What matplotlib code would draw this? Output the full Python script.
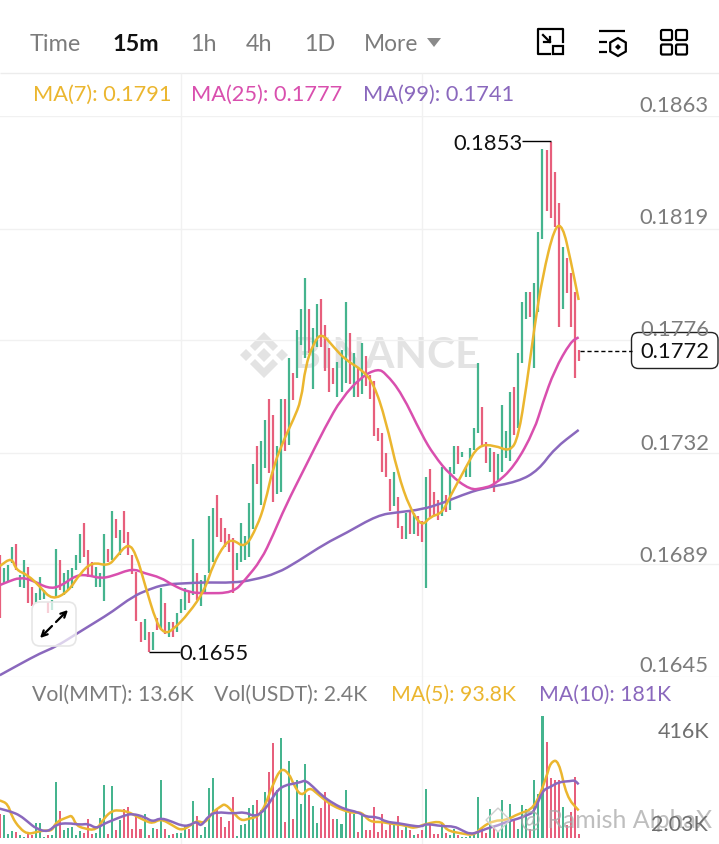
import matplotlib
matplotlib.use('Agg')
import matplotlib.pyplot as plt
from matplotlib.patches import FancyBboxPatch, Rectangle, RegularPolygon, Polygon, PathPatch
from matplotlib.path import Path

# one entry per 15m candle
highs = [
    .16924, .16872, .16885, .16956, .16967, .16846, .16904, .16879, .16801, .16775,
    .16837, .16788, .16742, .16749, .16946, .16904, .16853, .16866, .16872, .16924,
    .17005, .17047, .16943, .16898, .16879, .16853, .17005, .16946, .17096, .17064,
    .17021, .17096, .17015, .16924, .16859, .16665, .16674, .16626, .16626, .16678,
    .16794, .16736, .16665, .16665, .16697, .16755, .16794, .16781, .16986, .16856,
    .16827, .16846, .17075, .17105, .17157, .17066, .17028, .17005, .16989, .16930,
    .17047, .16998, .17127, .17278, .17347, .17367, .17449, .17529, .17468, .17347,
    .17529, .17529, .17688, .17630, .17798, .17879, .17999, .17879, .17807, .17898,
    .17919, .17818, .17730, .17649, .17675, .17721, .17908, .17788, .17708, .17656,
    .17749, .17697, .17623, .17601, .17416, .17397, .17319, .17218, .17245, .17148,
    .17038, .17086, .17099, .17086, .17075, .17056, .17226, .17257, .17167, .17138,
    .17265, .17157, .17267, .17347, .17347, .17325, .17267, .17338, .17416, .17669,
    .17498, .17364, .17338, .17325, .17316, .17507, .17407, .17556, .17578, .17708,
    .17909, .17947, .17947, .17980, .18178, .18500, .18498, .18530, .18411, .18291,
    .18120, .18079, .18019, .17947, .17721,
]
lows = [
    .16678, .16814, .16820, .16892, .16866, .16801, .16794, .16736, .16727, .16736,
    .16749, .16755, .16697, .16710, .16762, .16788, .16768, .16788, .16794, .16866,
    .16892, .16917, .16840, .16840, .16801, .16798, .16746, .16898, .16904, .16989,
    .16924, .16969, .16924, .16849, .16669, .16587, .16594, .16546, .16555, .16632,
    .16632, .16619, .16607, .16607, .16626, .16697, .16710, .16736, .16768, .16749,
    .16727, .16775, .16853, .16898, .16995, .16976, .16956, .16937, .16775, .16866,
    .16898, .16904, .16917, .17027, .17200, .17118, .17261, .17241, .17129, .17160,
    .17170, .17329, .17351, .17526, .17610, .17740, .17691, .17708, .17568, .17731,
    .17731, .17640, .17559, .17588, .17539, .17559, .17591, .17588, .17539, .17539,
    .17548, .17581, .17529, .17388, .17368, .17248, .17228, .17096, .17116, .17030,
    .16987, .16987, .17005, .17005, .16998, .16976, .16797, .17073, .17079, .17060,
    .17075, .17090, .17099, .17239, .17277, .17306, .17228, .17228, .17332, .17397,
    .17351, .17280, .17248, .17170, .17215, .17248, .17300, .17291, .17390, .17416,
    .17669, .17840, .17850, .17649, .17870, .18151, .18262, .18232, .18200, .17811,
    .17879, .17941, .17809, .17610, .17679,
]
sides = ("rgggrggrrggg" "rgg" "r" "ggggg" "rrr" "ggg" "r" "g" "r" "g" "rrrrr" "g" "r" "g" "r"
         "g" "r" "g" "r" "ggg" "r" "g" "r" "gggg" "rrrrr" "ggggg" "r" "gg" "rr" "gg" "r" "g" "r"
         "ggg" "r" "gg" "rrrr" "ggg" "r" "g" "r" "g" "rrrrrrr" "g" "rr" "g" "r" "g" "rr" "g" "rrr"
         "g" "r" "gg" "r" "ggggg" "rr" "g" "r" "gggg" "r" "ggg" "r" "ggg" "rrrr" "g" "rrrr")
volumes = [
    83, 77, 13, 24, 20, 9, 2, 20, 9, 51,
    51, 2, 11, 9, 191, 92, 28, 34, 38, 9,
    24, 17, 66, 15, 18, 69, 182, 15, 179, 26,
    60, 100, 106, 32, 72, 30, 83, 9, 34, 31,
    197, 30, 9, 13, 18, 18, 41, 32, 126, 74,
    11, 38, 171, 205, 94, 72, 38, 58, 140, 6,
    43, 49, 102, 111, 131, 94, 157, 225, 325, 163,
    342, 55, 263, 66, 197, 115, 251, 146, 108, 51,
    102, 157, 115, 66, 64, 47, 163, 89, 83, 20,
    83, 26, 26, 106, 20, 81, 26, 55, 49, 74,
    26, 43, 26, 9, 15, 28, 168, 49, 15, 13,
    47, 17, 9, 32, 9, 3, 2, 6, 13, 140,
    38, 17, 100, 38, 20, 131, 49, 115, 60, 32,
    111, 100, 32, 199, 149, 415, 327, 205, 199, 199,
    106, 43, 89, 208, 13,
]

ma7_idx = [0, 3, 4, 7, 10, 13, 17, 20, 23, 27, 29, 32, 34, 36, 39, 41, 43, 47, 51, 53, 56, 58, 61, 64,
           66, 68, 71, 73, 75, 76, 78, 80, 83, 86, 90, 93, 96, 99, 102, 105, 107, 110,
           112, 116, 119, 123, 127, 129, 131, 133, 135, 138, 140, 142, 144]
ma7 = [.16881, .16915, .16866, .16846, .16801, .16749, .16781, .16853, .16897, .16881, .16917, .16972,
       .16924, .16814, .16658, .16619, .16632, .16697, .16788, .16885, .16969, .16985, .16950, .17034,
       .17125, .17267, .17384, .17449, .17526, .17656, .17746, .17788, .17733, .17682, .17645, .17591,
       .17449, .17241, .17105, .17034, .17073, .17086,
       .17151, .17267, .17351, .17351, .17325, .17384, .17578, .17811, .18006, .18200, .18206, .18070, .17915]

ma25_idx = [0, 2, 5, 8, 12, 15, 19, 22, 25, 28, 33, 36, 40, 43, 47, 51, 58,
            61, 65, 68, 71, 76, 81, 85, 90, 94, 96, 100, 105, 108, 112, 117, 120, 123, 128, 133, 135, 138, 142, 144]
ma25 = [.16807, .16820, .16837, .16827, .16794, .16801, .16846, .16846, .16833, .16842, .16872, .16853,
        .16837, .16807, .16779, .16775, .16777,
        .16827, .16904, .17002, .17112, .17267, .17423, .17533, .17617, .17648, .17630, .17552, .17390,
        .17312, .17235, .17177, .17183, .17196, .17267, .17410, .17513, .17643, .17753, .17770]

ma99_idx = [0, 5, 10, 14, 19, 24, 28, 33, 37, 41, 46, 51, 58, 63, 69, 74, 81, 86, 94, 99, 105, 110,
            115, 120, 129, 134, 138, 144]
ma99 = [.16457, .16500, .16542, .16568, .16617, .16665, .16704, .16762, .16790, .16810, .16814, .16818,
        .16816, .16827, .16853, .16898, .16969, .17008, .17079, .17090, .17101, .17125,
        .17157, .17183, .17209, .17254, .17338, .17410]

vol5_idx = [0, 2, 3, 5, 7, 9, 11, 13, 14, 17, 18, 19, 21, 24, 26, 28, 30, 32, 34, 36, 38, 40, 43, 45, 47,
            49, 51, 53, 55, 56, 58, 60, 62, 64, 65, 66, 68, 70, 72, 73, 75, 77, 79, 81, 83, 86, 88,
            90, 92, 95, 97, 101, 103, 106, 110, 111, 115, 118, 120, 123, 126, 129, 133, 136, 137, 139, 141, 144]
vol5 = [128, 117, 72, 32, 13, 20, 26, 24, 55, 72, 77, 43, 32, 26, 69, 94, 94, 89, 74, 60, 49, 66, 43, 26, 38,
        60, 49, 89, 108, 117, 89, 58, 66, 72, 89, 111, 185, 240, 219, 185, 140, 174, 151, 128, 108, 92, 85,
        89, 55, 55, 49, 43, 32, 49, 58, 26, 15, 9, 38, 60, 60, 83, 100, 208, 259, 267, 140, 94]

vol10_idx = [0, 3, 5, 7, 9, 12, 14, 17, 20, 22, 24, 26, 28, 31, 33, 36, 38, 40, 43, 45, 47, 49, 50, 52, 54,
             58, 61, 63, 65, 67, 69, 71, 73, 75, 76, 78, 80, 83, 86, 89, 91, 94, 96, 99, 102, 105, 106,
             110, 113, 115, 117, 119, 121, 124, 126, 129, 131, 133, 135, 137, 139, 142, 143, 144]
vol10 = [100, 89, 77, 55, 32, 20, 47, 51, 45, 49, 32, 49, 60, 77, 83, 72, 55, 69, 55, 43, 41, 58, 38, 77, 89,
         83, 89, 74, 83, 117, 163, 180, 185, 191, 197, 174, 146, 117, 97, 89, 72, 72, 55, 51, 43, 38, 49,
         40, 40, 26, 13, 20, 32, 43, 55, 66, 77, 89, 163, 174, 191, 194, 197, 183]

price_ticks = [0.1645, 0.1689, 0.1732, 0.1776, 0.1819, 0.1863]
price_labels = ['0.1645', '0.1689', '0.1732', '0.1776', '0.1819', '0.1863']

GREEN = '#45b48e'
RED = '#e75f7c'
YELLOW = '#ebb62f'
PINK = '#d94fae'
PURPLE = '#8a68bd'
GRAY = '#7c7c7c'
GRID = '#f1f1f1'

plt.rcParams['font.family'] = ['Lato', 'DejaVu Sans']


def ma_line(axis, x, y, color, z):
    # rounded corners like the app's lines, the curve goes through the midpoints
    pts = list(zip(x, y))
    verts = [pts[0]]
    codes = [Path.MOVETO]
    for a, b in zip(pts[:-1], pts[1:]):
        verts += [a, ((a[0] + b[0]) / 2, (a[1] + b[1]) / 2)]
        codes += [Path.CURVE3, Path.CURVE3]
    verts.append(pts[-1])
    codes.append(Path.LINETO)
    axis.add_patch(PathPatch(Path(verts, codes), fill=False, ec=color, lw=1.8, zorder=z))


W, H = 719, 844
fig = plt.figure(figsize=(W / 100, H / 100), dpi=100, facecolor='white')

# pixel overlays: bg sits under the charts, fg above them
bg = fig.add_axes([0, 0, 1, 1], zorder=0)
fg = fig.add_axes([0, 0, 1, 1], zorder=5)
for a in (bg, fg):
    a.set_xlim(0, W)
    a.set_ylim(H, 0)
    a.axis('off')
    a.patch.set_alpha(0)

xs = list(range(len(highs)))
colors = [GREEN if s == 'g' else RED for s in sides]
xlim = (0.2 / 4.02, (W + 0.2) / 4.02)

# price pane
ax = fig.add_axes([0, (H - 677) / H, 1, 561 / H], zorder=2)
ax.patch.set_alpha(0)
ax.set_xlim(xlim)
ax.set_ylim(0.1645, 0.1863)
ax.set_yticks(price_ticks)
ax.set_xticks([])
ax.tick_params(left=False, labelleft=False)
ax.grid(axis='y', color=GRID, lw=1.0)
ax.set_axisbelow(True)
for s in ax.spines.values():
    s.set_visible(False)
ax.vlines(xs, lows, highs, colors=colors, lw=1.6, capstyle='butt', zorder=2)
ma_line(ax, ma99_idx, ma99, PURPLE, 3)
ma_line(ax, ma25_idx, ma25, PINK, 4)
ma_line(ax, ma7_idx, ma7, YELLOW, 5)

# volume pane
vax = fig.add_axes([0, (H - 838) / H, 1, 122 / H], zorder=2)
vax.patch.set_alpha(0)
vax.set_xlim(xlim)
vax.set_ylim(0, 416)
vax.axis('off')
vax.bar(xs, volumes, width=0.5, color=colors, zorder=2)
ma_line(vax, vol5_idx, vol5, YELLOW, 3)
ma_line(vax, vol10_idx, vol10, PURPLE, 4)

# separators and watermark
bg.hlines(72.5, 0, W, color='#ececec', lw=1)
bg.vlines([181, 422], 73, H, color=GRID, lw=1)
WM = '#e3e3e3'
for cx, cy, r in [(246, 355, 6), (282, 355, 6), (264, 355, 7)]:
    bg.add_patch(RegularPolygon((cx, cy), 4, radius=r, color=WM, lw=0))
bg.add_patch(Polygon([(264, 332), (278, 346), (273, 351), (264, 342), (255, 351), (250, 346)], color=WM, lw=0))
bg.add_patch(Polygon([(264, 378), (278, 364), (273, 359), (264, 368), (255, 359), (250, 364)], color=WM, lw=0))
bg.text(293, 356, 'BINANCE', fontsize=30.5, fontweight='bold', color=WM, va='center', ha='left')

# header
header = [('Time', 30, GRAY, 'normal', 16.8), ('15m', 112, '#111111', 'bold', 16.8), ('1h', 190, GRAY, 'normal', 16.8),
          ('4h', 246, GRAY, 'normal', 16.8), ('1D', 304, GRAY, 'normal', 16.8), ('More', 364, GRAY, 'normal', 16.3)]
for t, x, c, w, fs in header:
    fg.text(x, 44.5, t, fontsize=fs, color=c, fontweight=w, va='center', ha='left')
fg.add_patch(Polygon([(427, 38), (441, 38), (434, 47)], color='#8a8a8a', lw=0))

# icon 1
fg.plot([550, 538, 538, 563, 563], [54, 54, 29, 29, 42], color='black', lw=1.6)
fg.add_patch(Rectangle((553, 46), 10, 8, fc='white', ec='black', lw=1.6))
fg.plot([543, 550], [35, 42], color='black', lw=1.6)
fg.plot([550, 550, 544], [37, 42, 42], color='black', lw=1.6)
# icon 2
fg.hlines([31], 599, 625, color='black', lw=1.6)
fg.hlines([42, 52], 599, 607, color='black', lw=1.6)
fg.add_patch(RegularPolygon((618, 47), 6, radius=9, fc='white', ec='black', lw=1.6))
fg.add_patch(RegularPolygon((618, 47), 4, radius=3, fc='black', ec='black', lw=0))
# icon 3
for x0 in (661, 676):
    for y0 in (30, 44.5):
        fg.add_patch(FancyBboxPatch((x0, y0), 11, 10, boxstyle='round,pad=0,rounding_size=1.5',
                                    fc='white', ec='black', lw=1.6))

# legends
for t, x, c in [('MA(7): 0.1791', 33, YELLOW), ('MA(25): 0.1777', 191, PINK), ('MA(99): 0.1741', 363, PURPLE)]:
    fg.text(x, 94.5, t, fontsize=15.7, color=c, va='center', ha='left')
for t, x, c in [('Vol(MMT): 13.6K', 32, GRAY), ('Vol(USDT): 2.4K', 214, GRAY),
                ('MA(5): 93.8K', 391, YELLOW), ('MA(10): 181K', 539, PURPLE)]:
    fg.text(x, 694.5, t, fontsize=15.3, color=c, va='center', ha='left')

# price labels sit just above their grid lines
label_y = {'0.1645': 665.5, '0.1689': 555.5, '0.1732': 443.5, '0.1776': 330.5, '0.1819': 218.5, '0.1863': 105.5}
for lab in price_labels:
    fg.text(709, label_y[lab], lab, fontsize=15.8, color=GRAY, va='center', ha='right')
fg.text(709, 732.5, '416K', fontsize=15.5, color='#6f6f6f', va='center', ha='right')

# author watermark, the axis label below runs through it as in the app
fg.add_patch(RegularPolygon((498, 820), 4, radius=12, fc=(1, 1, 1, 0.35), ec='#cfcfcf', lw=1))
fg.text(712, 820, '@ Ramish AlphaX', fontsize=18, color='#a9a9a9', alpha=0.75, va='center', ha='right')
fg.text(708, 825, '2.03K', fontsize=15.5, color='#6f6f6f', va='center', ha='right')

# high / low markers
fg.hlines(141, 522, 551, color='black', lw=1)
fg.text(453, 144, '0.1853', fontsize=15.8, color='#111111', va='center', ha='left')
fg.hlines(652, 149, 180, color='black', lw=1)
fg.text(179, 653.5, '0.1655', fontsize=15.8, color='#111111', va='center', ha='left')

# last price tag
fg.hlines(350.5, 580, 632, color='black', lw=1, linestyles=(0, (3, 2)))
fg.add_patch(FancyBboxPatch((631.5, 332.5), 86.5, 36, boxstyle='round,pad=0,rounding_size=7',
                            fc='white', ec='#222222', lw=1))
fg.text(675, 352, '0.1772', fontsize=15.8, color='#111111', va='center', ha='center')

# expand button
fg.add_patch(FancyBboxPatch((32, 602), 44, 44, boxstyle='round,pad=0,rounding_size=8',
                            fc=(1, 1, 1, 0.7), ec='#e6e6e6', lw=1.2))
fg.annotate('', xy=(40, 638), xytext=(52, 626), arrowprops=dict(arrowstyle='->', color='black', lw=1.6,
                                                                shrinkA=0, shrinkB=0))
fg.annotate('', xy=(68, 610), xytext=(56, 622), arrowprops=dict(arrowstyle='->', color='black', lw=1.6,
                                                                shrinkA=0, shrinkB=0))

fig.savefig('out.png', dpi=100)
